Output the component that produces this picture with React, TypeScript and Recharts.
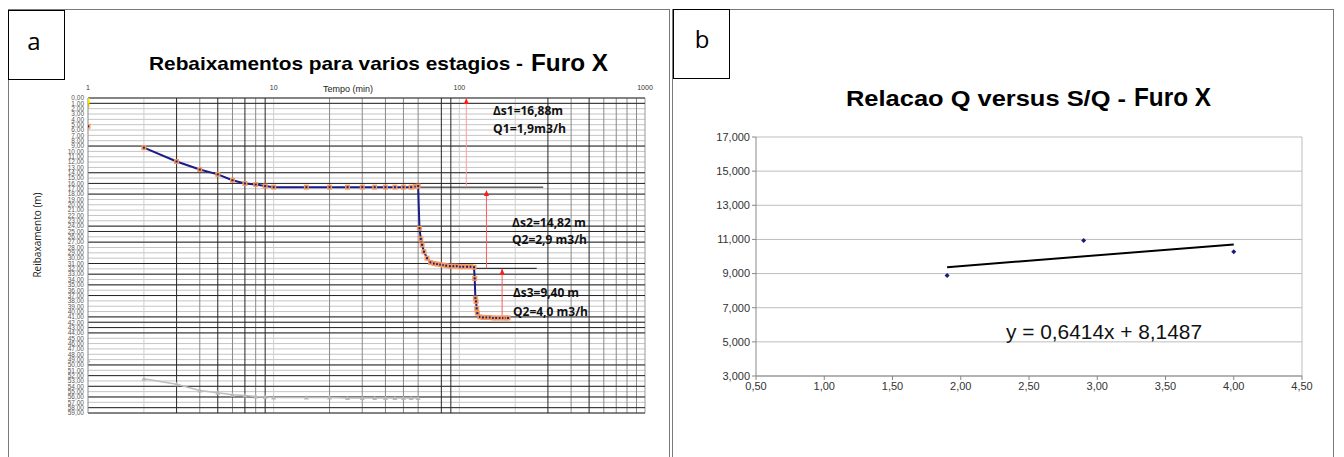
import React from 'react'
import {
  CartesianGrid,
  ComposedChart,
  Line,
  ReferenceLine,
  Scatter,
  XAxis,
  YAxis,
} from 'recharts'

// ---- panel a: drawdown vs time (log) ----
const timeTicks = [1, 10, 100, 1000]
const levelTicks = [
  0, 1, 2, 3, 4, 5, 6, 7, 8, 9, 10, 11, 12, 13, 14, 15, 16, 17, 18, 19, 20, 21, 22, 23, 24, 25, 26, 27, 28, 29,
  30, 31, 32, 33, 34, 35, 36, 37, 38, 39, 40, 41, 42, 43, 44, 45, 46, 47, 48, 49, 50, 51, 52, 53, 54, 55, 56, 57, 58, 59,
]
const darkLevels = [0, 1, 9, 14, 16, 18, 24, 25, 27, 31, 33, 35, 37, 41, 42, 43, 44, 50, 52, 54, 56, 58, 59]
const midTimes = [4, 6, 8, 20, 30, 40, 50, 60, 400, 600, 700, 800, 900]
const darkTimes = [3, 5, 7, 9, 80, 90, 300, 500]
const lightTimes = [2, 10, 100, 200]

const firstReading = [{ t: 1, s: 5.3 }]
const staticLevel = [
  { t: 1, s: 1.8 },
  { t: 1, s: 0 },
]
const drawdown = [
  { t: 2, s: 9.3 }, { t: 3, s: 11.9 }, { t: 4, s: 13.4 }, { t: 5, s: 14.3 }, { t: 6, s: 15.4 },
  { t: 7, s: 16.0 }, { t: 8, s: 16.2 }, { t: 9, s: 16.5 }, { t: 10, s: 16.7 }, { t: 15, s: 16.7 },
  { t: 20, s: 16.7 }, { t: 25, s: 16.7 }, { t: 30, s: 16.7 }, { t: 35, s: 16.7 }, { t: 40, s: 16.7 },
  { t: 45, s: 16.7 }, { t: 50, s: 16.7 }, { t: 55, s: 16.7 }, { t: 58, s: 16.6 }, { t: 60, s: 16.5 },
  { t: 61, s: 24.4 }, { t: 62, s: 26.4 }, { t: 63, s: 27.5 }, { t: 64.5, s: 28.8 }, { t: 67, s: 30.0 },
  { t: 70, s: 30.8 }, { t: 73, s: 31.0 }, { t: 76, s: 31.1 }, { t: 79, s: 31.2 }, { t: 82, s: 31.3 },
  { t: 85, s: 31.4 }, { t: 89, s: 31.5 }, { t: 93, s: 31.5 }, { t: 97, s: 31.5 }, { t: 101, s: 31.6 },
  { t: 105, s: 31.6 }, { t: 110, s: 31.6 }, { t: 115, s: 31.6 }, { t: 120, s: 31.7 },
  { t: 121, s: 33.8 }, { t: 122, s: 37.5 }, { t: 123, s: 38.1 }, { t: 124, s: 39.4 }, { t: 125, s: 40.3 },
  { t: 129, s: 41.0 }, { t: 134, s: 41.1 }, { t: 140, s: 41.1 }, { t: 146, s: 41.1 }, { t: 152, s: 41.2 },
  { t: 158, s: 41.2 }, { t: 165, s: 41.2 }, { t: 172, s: 41.2 }, { t: 178, s: 41.2 }, { t: 183, s: 41.2 },
]
const greyFirst = [{ t: 1, s: 49.1 }]
const greySeries = [
  { t: 2, s: 52.6 }, { t: 3, s: 53.6 }, { t: 4, s: 54.8 }, { t: 5, s: 55.2 }, { t: 6, s: 55.6 },
  { t: 7, s: 55.7 }, { t: 8, s: 55.9 }, { t: 9, s: 56.0 }, { t: 10, s: 56.1 }, { t: 15, s: 56.1 },
  { t: 20, s: 56.1 }, { t: 25, s: 56.2 }, { t: 30, s: 56.2 }, { t: 35, s: 56.2 }, { t: 40, s: 56.2 },
  { t: 45, s: 56.2 }, { t: 50, s: 56.2 }, { t: 55, s: 56.2 }, { t: 60, s: 56.2 },
]
const stage1Level = [{ t: 60, s: 16.7 }, { t: 283, s: 16.7 }]
const stage2Level = [{ t: 120, s: 31.9 }, { t: 261, s: 31.9 }]
const arrow1 = [{ t: 109, s: 16.7 }, { t: 109, s: 0.2 }]
const arrow2 = [{ t: 140, s: 31.9 }, { t: 140, s: 17.4 }]
const arrow3 = [{ t: 170, s: 41.1 }, { t: 170, s: 32.1 }]

// ---- panel b: Q versus S/Q ----
const qTicks = [0.5, 1, 1.5, 2, 2.5, 3, 3.5, 4, 4.5]
const sqTicks = [3, 5, 7, 9, 11, 13, 15, 17]
const qsPoints = [
  { q: 1.9, sq: 8.88 },
  { q: 2.9, sq: 10.93 },
  { q: 4.0, sq: 10.28 },
]
const trend = [
  { q: 1.9, sq: 9.37 },
  { q: 4.0, sq: 10.71 },
]

const comma = (v: number, d: number) => v.toFixed(d).replace('.', ',')

const SquareDot = (p: any) => {
  const { cx, cy, index } = p
  if (cx == null || cy == null) return <g key={`sq-${index}`} />
  return (
    <g key={`sq-${index}`}>
      <rect x={cx - 2.5} y={cy - 2.5} width={5} height={5} fill="#f59a5a" />
      <rect x={cx - 1} y={cy - 1} width={2} height={2} fill="#1b1b8a" />
    </g>
  )
}

const TriDot = (p: any) => {
  const { cx, cy, index } = p
  if (cx == null || cy == null) return <g key={`tr-${index}`} />
  return <path key={`tr-${index}`} d={`M${cx},${cy - 2.5} L${cx - 2.5},${cy + 2} L${cx + 2.5},${cy + 2} Z`} fill="#b8b8b8" />
}

const headDot = (color: string) => (p: any) => {
  const { cx, cy, index } = p
  if (index !== 1 || cx == null) return <g key={`h-${index}`} />
  return <path key={`h-${index}`} d={`M${cx},${cy - 1} L${cx - 2.5},${cy + 5} L${cx + 2.5},${cy + 5} Z`} fill={color} />
}

const Diamond = (p: any) => {
  const { cx, cy } = p
  return <path d={`M${cx},${cy - 2.5} L${cx + 2.5},${cy} L${cx},${cy + 2.5} L${cx - 2.5},${cy} Z`} fill="#1a1a7a" />
}

const sans = 'Liberation Sans, Arial, sans-serif'
const label = 'Open Sans, Noto Sans, sans-serif'

function DrawdownChart() {
  return (
    <ComposedChart width={670} height={457} margin={{ top: 84, right: 25, bottom: 44, left: 58 }}>
      <CartesianGrid stroke="#c4c4c4" vertical={false} />
      <XAxis
        dataKey="t"
        type="number"
        scale="log"
        domain={[1, 1000]}
        allowDataOverflow
        orientation="top"
        ticks={timeTicks}
        height={14}
        tickLine={false}
        axisLine={false}
        tick={{ fontSize: 7, fill: '#333', fontFamily: sans }}
      />
      <YAxis
        dataKey="s"
        type="number"
        reversed
        domain={[0, 59]}
        ticks={levelTicks}
        interval={0}
        width={30}
        tickSize={2}
        tickLine={false}
        axisLine={{ stroke: '#888' }}
        tickFormatter={(v: number) => comma(v, 2)}
        tick={{ fontSize: 6.5, fill: '#555', fontFamily: sans }}
      />
      {lightTimes.map((t) => (
        <ReferenceLine key={`lt${t}`} x={t} stroke="#cfcfcf" />
      ))}
      {midTimes.map((t) => (
        <ReferenceLine key={`mt${t}`} x={t} stroke="#8a8a8a" />
      ))}
      {darkTimes.map((t) => (
        <ReferenceLine key={`dt${t}`} x={t} stroke="#262626" />
      ))}
      <ReferenceLine x={1000} stroke="#999" />
      {darkLevels.map((s) => (
        <ReferenceLine key={`dl${s}`} y={s} stroke="#262626" />
      ))}
      <Line data={stage1Level} dataKey="s" stroke="#111" strokeWidth={1} dot={false} isAnimationActive={false} />
      <Line data={stage2Level} dataKey="s" stroke="#111" strokeWidth={1} dot={false} isAnimationActive={false} />
      <Line data={arrow1} dataKey="s" stroke="#ff9c9c" strokeWidth={1} dot={headDot('#ff1a1a')} isAnimationActive={false} />
      <Line data={arrow2} dataKey="s" stroke="#ff5a5a" strokeWidth={1} dot={headDot('#ff1a1a')} isAnimationActive={false} />
      <Line data={arrow3} dataKey="s" stroke="#ff5a5a" strokeWidth={1} dot={headDot('#ff1a1a')} isAnimationActive={false} />
      <Line data={staticLevel} dataKey="s" stroke="#ffe600" strokeWidth={3} dot={headDot('#ffe600')} isAnimationActive={false} />
      <Line data={greyFirst} dataKey="s" stroke="none" dot={TriDot} isAnimationActive={false} />
      <Line data={greySeries} dataKey="s" stroke="#bdbdbd" strokeWidth={1.5} dot={TriDot} isAnimationActive={false} />
      <Line data={firstReading} dataKey="s" stroke="none" dot={SquareDot} isAnimationActive={false} />
      <Line data={drawdown} dataKey="s" stroke="#1b1b8a" strokeWidth={2} dot={SquareDot} isAnimationActive={false} />
    </ComposedChart>
  )
}

function RatioChart() {
  return (
    <ComposedChart width={661} height={457} margin={{ top: 137, right: 32, bottom: 51, left: 33 }}>
      <CartesianGrid stroke="#bdbdbd" vertical={false} />
      <XAxis
        dataKey="q"
        type="number"
        domain={[0.5, 4.5]}
        ticks={qTicks}
        height={30}
        tickSize={4}
        tickLine={{ stroke: '#888' }}
        axisLine={{ stroke: '#888' }}
        tickFormatter={(v: number) => comma(v, 2)}
        tick={{ fontSize: 11, fill: '#333', fontFamily: sans }}
      />
      <YAxis
        dataKey="sq"
        type="number"
        domain={[3, 17]}
        ticks={sqTicks}
        width={50}
        tickSize={4}
        tickLine={{ stroke: '#888' }}
        axisLine={{ stroke: '#888' }}
        tickFormatter={(v: number) => comma(v, 3)}
        tick={{ fontSize: 11, fill: '#333', fontFamily: sans }}
      />
      <ReferenceLine x={4.5} stroke="#bdbdbd" />
      <Line data={trend} dataKey="sq" stroke="#000" strokeWidth={2} dot={false} isAnimationActive={false} />
      <Scatter data={qsPoints} dataKey="sq" shape={Diamond} isAnimationActive={false} />
    </ComposedChart>
  )
}

export default function App() {
  return (
    <div style={{ position: 'absolute', left: 0, top: 0, width: 1344, height: 457, background: '#fff', overflow: 'hidden' }}>
      <div style={{ position: 'absolute', left: 0, top: 0 }}>
        <DrawdownChart />
      </div>
      <div style={{ position: 'absolute', left: 673, top: 0 }}>
        <RatioChart />
      </div>
      <svg width={1344} height={457} style={{ position: 'absolute', left: 0, top: 0, pointerEvents: 'none' }}>
        {/* panel frames */}
        <rect x={8.5} y={9.5} width={661} height={460} fill="none" stroke="#7a7a7a" />
        <rect x={672.5} y={9.5} width={661} height={460} fill="none" stroke="#7a7a7a" />
        <rect x={8.5} y={10.5} width={56} height={69} fill="#fff" stroke="#000" />
        <rect x={673.5} y={9.5} width={56} height={69} fill="#fff" stroke="#000" />
        <text x={34} y={50} textAnchor="middle" fontSize={24} fontFamily={label} fill="#000">a</text>
        <text x={702} y={48} textAnchor="middle" fontSize={24} fontFamily={label} fill="#000">b</text>

        {/* titles */}
        <text x={149} y={70} fontSize={19} fontWeight="bold" fontFamily={sans} textLength={374} lengthAdjust="spacingAndGlyphs">
          Rebaixamentos para varios estagios -
        </text>
        <text x={531} y={71} fontSize={24} fontWeight="bold" fontFamily={sans} textLength={77} lengthAdjust="spacingAndGlyphs">
          Furo X
        </text>
        <text x={846} y={106} fontSize={22} fontWeight="bold" fontFamily={sans} textLength={280} lengthAdjust="spacingAndGlyphs">
          Relacao Q versus S/Q -
        </text>
        <text x={1134} y={106} fontSize={26} fontWeight="bold" fontFamily={sans} textLength={77} lengthAdjust="spacingAndGlyphs">
          Furo X
        </text>

        {/* axis titles panel a */}
        <text x={348} y={92} textAnchor="middle" fontSize={9} fontFamily={sans} fill="#222">Tempo (min)</text>
        <text x={41} y={235} textAnchor="middle" fontSize={10} fontFamily={label} fill="#222" transform="rotate(-90 41 235)">
          Reibaxamento (m)
        </text>

        {/* stage annotations */}
        <g fontFamily={label} fontWeight="bold" fontSize={12.5} fill="#111">
          <text x={493} y={115} textLength={70} lengthAdjust="spacingAndGlyphs">Δs1=16,88m</text>
          <text x={493} y={133} textLength={73} lengthAdjust="spacingAndGlyphs">Q1=1,9m3/h</text>
          <text x={512} y={227} textLength={74} lengthAdjust="spacingAndGlyphs">Δs2=14,82 m</text>
          <text x={512} y={244} textLength={75} lengthAdjust="spacingAndGlyphs">Q2=2,9 m3/h</text>
          <text x={513} y={297} textLength={66} lengthAdjust="spacingAndGlyphs">Δs3=9,40 m</text>
          <text x={513} y={316} textLength={75} lengthAdjust="spacingAndGlyphs">Q2=4,0 m3/h</text>
        </g>

        {/* trend equation panel b */}
        <text x={1006} y={339} fontSize={21} fontFamily={sans} fill="#111" textLength={196} lengthAdjust="spacingAndGlyphs">
          y = 0,6414x + 8,1487
        </text>
      </svg>
    </div>
  )
}
